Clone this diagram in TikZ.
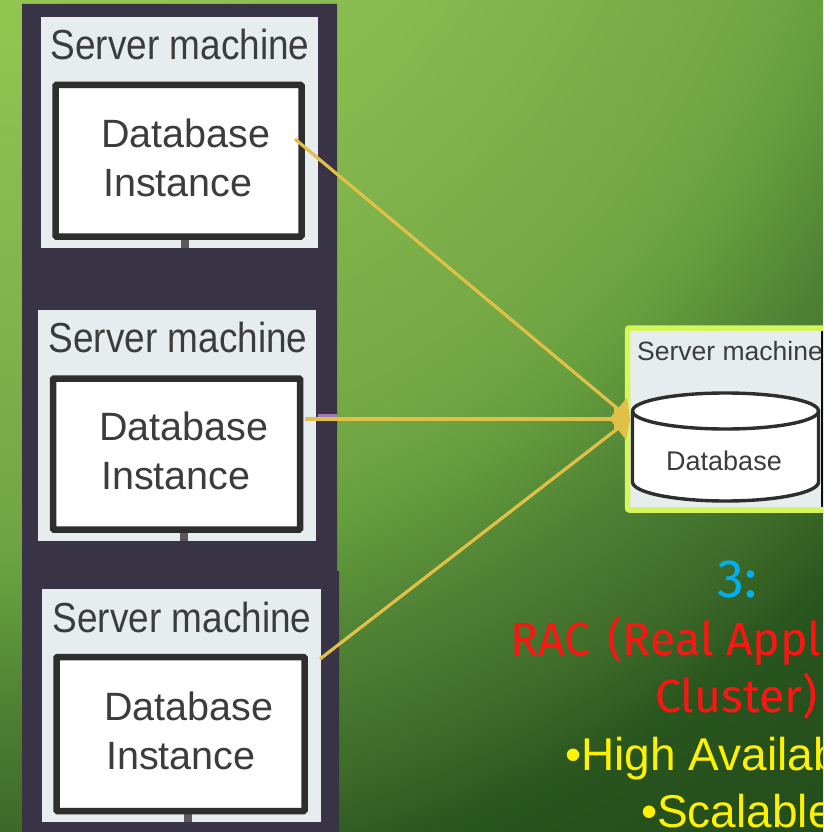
\documentclass[tikz,border=0pt]{standalone}
\usepackage{fontspec}
\setmainfont{Liberation Sans}
\newfontfamily\titlefont{Fira Sans}
\usetikzlibrary{arrows.meta}
\definecolor{cA}{HTML}{93C650}
\definecolor{cB}{HTML}{8ABD50}
\definecolor{cC}{HTML}{7BAE48}
\definecolor{cD}{HTML}{74A845}
\definecolor{cE}{HTML}{68A03E}
\definecolor{cF}{HTML}{4F8235}
\definecolor{cG}{HTML}{3D6A28}
\definecolor{cH}{HTML}{28541E}
\definecolor{cI}{HTML}{234C1A}
\definecolor{panel}{HTML}{383446}
\definecolor{boxbg}{HTML}{E7EDEE}
\definecolor{inkline}{HTML}{2E2E2E}
\definecolor{txt}{HTML}{3C3C3C}
\definecolor{limeb}{HTML}{D4F55C}
\definecolor{conn}{HTML}{E0C048}
\definecolor{purp}{HTML}{A878B8}
\definecolor{stem}{HTML}{5A5A5E}
\pgfdeclareradialshading{bgshade}{\pgfpointorigin}{color(0bp)=(cA); color(5bp)=(cA); color(7.5bp)=(cB); color(11.67bp)=(cC); color(13.33bp)=(cD); color(14.6bp)=(cE); color(16.67bp)=(cF); color(18.83bp)=(cG); color(20.33bp)=(cH); color(23.67bp)=(cI); color(50bp)=(cI)}
\tikzset{
  instbox/.style={draw=inkline,line width=6.5pt,fill=white,rounded corners=1pt,inner sep=0pt},
  headlabel/.style={anchor=base west,inner sep=0pt,text=txt,font=\fontsize{42}{44}\selectfont},
  instlabel/.style={anchor=west,inner sep=0pt,align=left,text=txt,font=\fontsize{39.5}{49}\selectfont},
  link/.style={draw=conn,line width=3.2pt,-{Triangle[length=16pt,width=28pt,fill=conn]}},
  titletext/.style={anchor=base west,inner sep=0pt,font=\fontsize{46.5}{50}\titlefont},
  bullettext/.style={anchor=base west,inner sep=0pt,text=yellow,font=\fontsize{46}{50}\selectfont},
  stemline/.style={draw=stem,line width=8pt}
}
\newcommand{\shead}[1]{\scalebox{0.88}[1]{#1}}
\begin{document}
\begin{tikzpicture}[x=1pt,y=-1pt]
\useasboundingbox (0,0) rectangle (823,832);
\begin{scope}
\clip (0,0) rectangle (823,832);
\path[shading=bgshade] (0,-300) circle (1500);
% dark panel
\fill[panel] (22,4) rectangle (337,571) (22,571) rectangle (339,832);
% box 1
\fill[boxbg] (41,17) rectangle (318,248);
\coordinate (s1) at (185,239);
\coordinate (e1) at (185,248);
\draw[stemline] (s1) -- (e1);
\draw[instbox] (55.5,85) rectangle (301.5,236.5);
\node[headlabel] (h1) at (50.5,60) {\shead{Server machine}};
\node[instlabel] (i1) at (101,158) {Database\\\hspace{2pt}Instance};
% box 2
\fill[boxbg] (38,310) rectangle (316,541);
\coordinate (s2) at (184,531);
\coordinate (e2) at (184,541);
\draw[stemline] (s2) -- (e2);
\draw[instbox] (53,378.5) rectangle (300,529.5);
\node[headlabel] (h2) at (48.5,352) {\shead{Server machine}};
\node[instlabel] (i2) at (99,451) {Database\\\hspace{2pt}Instance};
% box 3
\fill[boxbg] (42,589) rectangle (321,822);
\coordinate (s3) at (188,813);
\coordinate (e3) at (188,822);
\draw[stemline] (s3) -- (e3);
\draw[instbox] (56.5,657) rectangle (304.5,811);
\node[headlabel] (h3) at (52.5,632) {\shead{Server machine}};
\node[instlabel] (i3) at (104,731) {Database\\\hspace{2pt}Instance};
% database box
\fill[boxbg] (627,328) rectangle (823,510);
\draw[limeb,line width=5.5pt,rounded corners=2pt] (830,328) -- (627.5,328) -- (627.5,510) -- (830,510);
\fill[black!80!panel] (821,331) rectangle (823,507);
\node[anchor=base west,inner sep=0pt,text=txt,font=\fontsize{26.5}{30}\selectfont] (h4) at (637,360) {Server machine};
\draw[inkline,line width=3.4pt,fill=white] (632.5,411) -- (632.5,482) arc[start angle=180,end angle=0,x radius=93,y radius=19] -- (818.5,411) arc[start angle=0,end angle=-180,x radius=93,y radius=18];
\draw[inkline,line width=3.4pt] (632.5,411) arc[start angle=180,end angle=0,x radius=93,y radius=18];
\node[anchor=base west,inner sep=0pt,text=txt,font=\fontsize{27}{30}\selectfont] (db) at (666,470) {Database};
% connectors
\coordinate (in) at (630,419);
\coordinate (c1) at (295,139);
\coordinate (c2) at (305,419);
\coordinate (c3) at (320,659);
\fill[purp] (318,414) rectangle (337,417);
\draw[link] (c1) -- (in);
\draw[link] (c2) -- (in);
\draw[link] (c3) -- (in);
% text
\node[titletext,text={rgb,255:red,0;green,176;blue,240},font=\fontsize{54}{56}\titlefont] (t0) at (717,597) {3:};
\node[titletext,text={rgb,255:red,255;green,20;blue,20}] (t1) at (510,655) {RAC\hspace{5pt} (Real Appl};
\node[titletext,text={rgb,255:red,255;green,20;blue,20}] (t2) at (655,712) {Cluster)};
\node[bullettext] (t3) at (565,770) {•High Availab};
\node[bullettext] (t4) at (641,827) {•Scalable};
\end{scope}
\end{tikzpicture}
\end{document}
